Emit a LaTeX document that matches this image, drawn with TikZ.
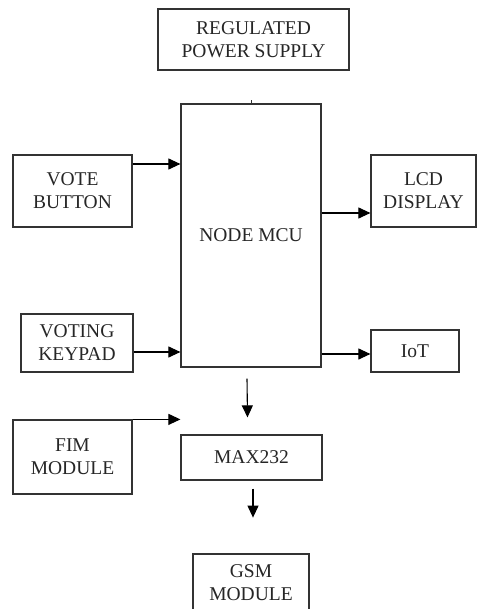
\documentclass[tikz,border=0pt]{standalone}
\usepackage{fontspec}
\setmainfont{Liberation Serif}
\usepackage{tikz}
\usetikzlibrary{positioning,arrows.meta}

\begin{document}
\begin{tikzpicture}[x=1pt,y=-1pt,
blk/.style={draw=black!80,line width=1.2pt,rectangle,inner sep=0pt,align=center,
    text=black!85,font=\fontsize{19.5}{23}\selectfont},
arr/.style={draw=black,line width=1.1pt,-{Triangle[length=12pt,width=11pt]}}]
\useasboundingbox (0,0) rectangle (477,609);
% blocks
\node (power) [blk,minimum width=191pt,minimum height=61pt] at (253.5,39.5) {REGULATED\\POWER SUPPLY};
\node (mcu) [blk,minimum width=140pt,minimum height=263pt] at (251,235.5) {NODE MCU};
\node (vote) [blk,minimum width=119pt,minimum height=72pt] at (72.5,191) {VOTE\\BUTTON};
\node (lcd) [blk,minimum width=105pt,minimum height=72pt] at (423.5,191) {LCD\\DISPLAY};
\node (keypad) [blk,minimum width=112pt,minimum height=58pt] at (77,343) {VOTING\\KEYPAD};
\node (iot) [blk,minimum width=88pt,minimum height=42pt] at (415,351) {IoT};
\node (fim) [blk,minimum width=119pt,minimum height=74pt] at (72.5,457) {FIM\\MODULE};
\node (max) [blk,minimum width=141pt,minimum height=45pt] at (251.5,457.5) {MAX232};
\node (gsm) [blk,minimum width=116pt,minimum height=58pt] at (251,583) {GSM\\MODULE};
% connectors
\draw [black!80,line width=1pt] (mcu.north) -- ++(0,-3);
\draw [arr] ([yshift=27pt]vote.east) -- ([yshift=27pt]vote.east -| mcu.west);
\draw [arr] ([yshift=-22pt]lcd.west -| mcu.east) -- ([yshift=-22pt]lcd.west);
\draw [arr] ([yshift=-9pt]keypad.east) -- ([yshift=-9pt]keypad.east -| mcu.west);
\draw [arr] ([yshift=-3pt]iot.west -| mcu.east) -- ([yshift=-3pt]iot.west);
\draw [arr] (fim.north east) -- (fim.north east -| max.west);
\draw [arr] ([xshift=-4pt,yshift=-11pt]mcu.south) -- ([xshift=-4pt,yshift=17pt]max.north);
\draw [arr] ([xshift=1.5pt,yshift=-8pt]max.south) -- ([xshift=1.5pt,yshift=-37pt]max.south);
\end{tikzpicture}
\end{document}
